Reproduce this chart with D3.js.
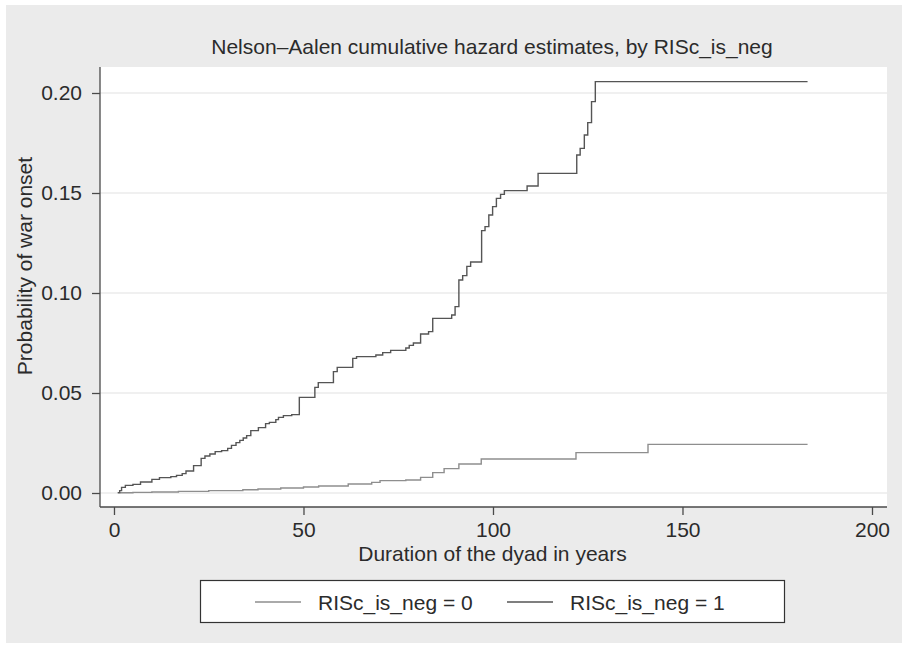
<!DOCTYPE html>
<meta charset="utf-8">
<script src="https://d3js.org/d3.v7.min.js"></script>
<style>
  body { margin: 0; background: #fff; }
  text { font-family: "Liberation Sans", Arial, sans-serif; fill: #2b2b2b; }
</style>
<div id="chart"></div>
<script>

    // Nelson-Aalen estimates (time in years, cumulative hazard)
    var timesNeg0 = [1, 5, 10, 17, 25, 34, 38, 44, 50, 54, 61.8, 68, 70.2, 77, 80.9, 84.1, 87.1, 91, 96.9, 121.9, 140.9, 183];
    var hazardNeg0 = [0.0001, 0.0003, 0.0005, 0.0008, 0.0012, 0.0016, 0.0020, 0.0025, 0.0030, 0.0035, 0.0045, 0.0053, 0.0062, 0.0065, 0.0078, 0.0102, 0.0122, 0.0145, 0.0170, 0.0202, 0.0243, 0.0243];

    var timesNeg1 = [1, 1.5, 2, 3, 5, 7, 10, 12, 15, 16.5, 18, 19, 21, 23, 24, 25.3, 26.7, 28.4, 30, 31, 32.2, 33.2, 34.1, 35, 36.1, 38.1, 40, 41, 42.7, 43.4, 44.7, 46.9, 48.9, 53, 53.9, 57.9, 58.9, 63, 64, 69.1, 70.9, 73, 77, 77.9, 79, 80.9, 83, 84.1, 89.1, 90, 91, 92, 93.1, 94.1, 97, 97.9, 98.9, 99.9, 100.9, 102, 103, 109, 111.9, 122.1, 123, 124.1, 125, 126, 127, 183];
    var hazardNeg1 = [0.0002, 0.0012, 0.0028, 0.0038, 0.0043, 0.0055, 0.0068, 0.0077, 0.0082, 0.0088, 0.0097, 0.0110, 0.0137, 0.0173, 0.0185, 0.0195, 0.0207, 0.0212, 0.0223, 0.0238, 0.0252, 0.0263, 0.0275, 0.0287, 0.0312, 0.0327, 0.0347, 0.0353, 0.0367, 0.0378, 0.0387, 0.0392, 0.0478, 0.0528, 0.0552, 0.0607, 0.0628, 0.0673, 0.0682, 0.0690, 0.0702, 0.0713, 0.0725, 0.0738, 0.0750, 0.0795, 0.0807, 0.0873, 0.0890, 0.0932, 0.1065, 0.1087, 0.1133, 0.1155, 0.1312, 0.1332, 0.1390, 0.1432, 0.1473, 0.1493, 0.1512, 0.1535, 0.1598, 0.1690, 0.1723, 0.1790, 0.1852, 0.1957, 0.2057, 0.2057];

    var xTicks = [0, 50, 100, 150, 200];
    var yTicks = [0, 0.05, 0.10, 0.15, 0.20];
    var legendLabels = ["RISc_is_neg = 0", "RISc_is_neg = 1"];
    var seriesColors = ["#8e8e8e", "#555555"];

    var W = 902, H = 648;
    var plot = { left: 100, right: 887, top: 67, bottom: 507 };

    var svg = d3.select("#chart")
        .append("svg")
        .attr("width", W)
        .attr("height", H);

    // grey graph region and white plot region
    svg.append("rect")
        .attr("x", 6).attr("y", 5)
        .attr("width", W - 6).attr("height", 638)
        .attr("fill", "#ebebeb");
    svg.append("rect")
        .attr("x", plot.left).attr("y", plot.top)
        .attr("width", plot.right - plot.left).attr("height", plot.bottom - plot.top)
        .attr("fill", "#ffffff");

    var x = d3.scaleLinear()
        .domain([-3.69, 203.96])
        .range([plot.left, plot.right]);

    var y = d3.scaleLinear()
        .domain([-0.007, 0.213])
        .range([plot.bottom, plot.top]);

    // horizontal grid lines
    svg.append("g")
        .selectAll("line")
        .data(yTicks)
        .join("line")
        .attr("x1", plot.left).attr("x2", plot.right)
        .attr("y1", function (d) { return y(d); })
        .attr("y2", function (d) { return y(d); })
        .attr("stroke", "#ebebeb")
        .attr("stroke-width", 1.5);

    // Y axis
    var yAxis = svg.append("g")
        .attr("transform", "translate(" + plot.left + ",0)")
        .call(d3.axisLeft(y).tickValues(yTicks).tickFormat(d3.format(".2f")).tickSize(8).tickPadding(10));
    yAxis.select(".domain").attr("d", "M0," + plot.top + "V" + plot.bottom);

    // X axis
    var xAxis = svg.append("g")
        .attr("transform", "translate(0," + plot.bottom + ")")
        .call(d3.axisBottom(x).tickValues(xTicks).tickFormat(d3.format("d")).tickSize(8).tickPadding(7));
    xAxis.select(".domain").attr("d", "M" + plot.left + ",0H" + plot.right);

    svg.selectAll(".domain, .tick line")
        .attr("stroke", "#4a4a4a")
        .attr("stroke-width", 1.3);
    svg.selectAll(".tick text")
        .attr("font-family", "Liberation Sans, Arial, sans-serif")
        .attr("font-size", 21)
        .attr("fill", "#2b2b2b");

    // titles
    svg.append("text")
        .attr("x", 492)
        .attr("y", 54)
        .attr("text-anchor", "middle")
        .attr("font-size", 21)
        .text("Nelson\u2013Aalen cumulative hazard estimates, by RISc_is_neg");

    svg.append("text")
        .attr("x", 492.5)
        .attr("y", 561)
        .attr("text-anchor", "middle")
        .attr("font-size", 21)
        .text("Duration of the dyad in years");

    svg.append("text")
        .attr("transform", "translate(32,266) rotate(-90)")
        .attr("text-anchor", "middle")
        .attr("font-size", 21)
        .text("Probability of war onset");

    // the step lines
    var line = d3.line()
        .curve(d3.curveStepAfter)
        .x(function (d) { return x(d[0]); })
        .y(function (d) { return y(d[1]); });

    var series = [
        d3.zip(timesNeg0, hazardNeg0),
        d3.zip(timesNeg1, hazardNeg1)
    ];

    svg.append("g")
        .selectAll("path")
        .data(series)
        .join("path")
        .attr("fill", "none")
        .attr("stroke", function (d, i) { return seriesColors[i]; })
        .attr("stroke-width", 1.4)
        .attr("d", line);

    // legend
    svg.append("rect")
        .attr("x", 200.5).attr("y", 580.5)
        .attr("width", 584).attr("height", 42)
        .attr("fill", "#ffffff")
        .attr("stroke", "#333333")
        .attr("stroke-width", 1.2);

    var legendX = [255, 507];
    var item = svg.append("g")
        .selectAll("g")
        .data(legendLabels)
        .join("g")
        .attr("transform", function (d, i) { return "translate(" + legendX[i] + ",602)"; });

    item.append("line")
        .attr("x1", 0).attr("x2", 46)
        .attr("stroke", function (d, i) { return seriesColors[i]; })
        .attr("stroke-width", 1.4);

    item.append("text")
        .attr("x", 63)
        .attr("y", 7.5)
        .attr("font-size", 21)
        .text(function (d) { return d; });

</script>
